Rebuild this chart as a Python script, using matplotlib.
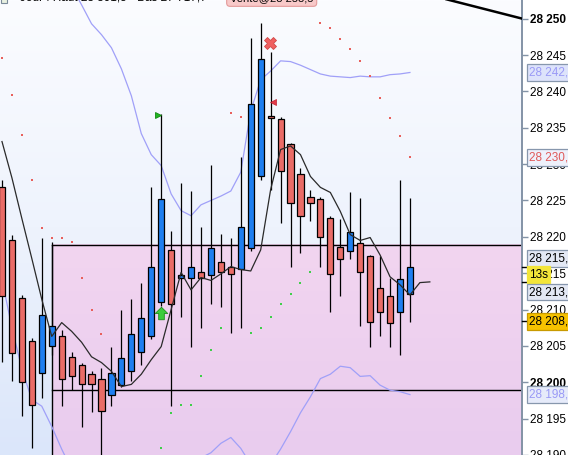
import numpy as np
import matplotlib.pyplot as plt
from matplotlib.patches import Rectangle
from matplotlib.colors import LinearSegmentedColormap

plt.rcParams['font.family'] = ['Liberation Sans', 'DejaVu Sans']

# Bougies : ouverture, haut, bas, clôture
ouv = [28226.8, 28219.5, 28211.6, 28205.7, 28201.3, 28205.0, 28206.4, 28203.5, 28202.3, 28201.1,
       28200.5, 28198.2, 28199.6, 28201.5, 28204.1, 28206.4, 28211.1, 28218.2, 28214.4, 28214.4,
       28215.1, 28214.7, 28216.6, 28215.9, 28215.6, 28218.4, 28228.4, 28236.4, 28236.2, 28232.7,
       28228.7, 28225.5, 28225.2, 28222.6, 28218.6, 28218.0, 28219.2, 28217.3, 28212.9, 28211.8,
       28209.7, 28212.1]
haut = [28227.8, 28220.3, 28212.0, 28206.1, 28219.9, 28219.3, 28207.2, 28204.2, 28202.6, 28201.5,
        28201.9, 28204.9, 28209.9, 28211.4, 28213.7, 28226.9, 28236.9, 28220.8, 28227.4, 28226.3,
        28221.4, 28229.9, 28220.4, 28219.9, 28231.0, 28247.4, 28249.4, 28245.4, 28236.5, 28232.9,
        28229.4, 28226.5, 28225.5, 28222.8, 28222.4, 28226.2, 28225.4, 28217.5, 28217.3, 28214.4,
        28227.8, 28225.4]
bas = [28202.8, 28200.2, 28195.3, 28190.9, 28197.8, 28203.8, 28196.7, 28198.9, 28193.8, 28195.9,
       28189.4, 28196.7, 28199.3, 28200.2, 28202.4, 28205.9, 28210.5, 28196.7, 28209.0, 28204.9,
       28207.4, 28210.8, 28210.4, 28206.8, 28207.4, 28218.0, 28227.8, 28226.5, 28221.9, 28215.9,
       28217.8, 28222.2, 28215.9, 28209.7, 28211.8, 28216.9, 28207.8, 28204.8, 28206.3, 28204.8,
       28203.7, 28208.3]
clot = [28211.9, 28204.0, 28200.0, 28196.8, 28209.2, 28207.7, 28200.5, 28200.9, 28199.7, 28199.8,
        28196.0, 28201.2, 28203.3, 28206.6, 28208.8, 28215.9, 28225.2, 28210.7, 28214.5, 28215.8,
        28214.4, 28218.4, 28215.1, 28214.9, 28221.4, 28238.3, 28244.5, 28236.3, 28229.1, 28224.7,
        28222.8, 28224.7, 28220.0, 28214.9, 28217.0, 28220.7, 28215.2, 28208.3, 28209.7, 28208.1,
        28214.2, 28215.9]

# Moyenne mobile (décalée de 2 barres)
mm = [28233.1, 28228.1, 28222.5, 28217.0, 28211.4, 28206.3, 28208.2, 28207.0, 28205.5, 28203.5,
      28202.7, 28201.5, 28199.4, 28199.7, 28201.1, 28203.1, 28204.9, 28210.0, 28215.1, 28212.7,
      28214.4, 28214.0, 28214.9, 28215.9, 28215.5, 28215.3, 28218.2, 28226.5, 28232.0, 28232.5,
      28231.3, 28228.3, 28226.8, 28226.1, 28223.5, 28220.3, 28219.5, 28219.9, 28217.5, 28214.5,
      28213.4, 28212.0, 28213.7, 28213.8]

# Bandes
bande_haut_debut = 5
bande_haut = [28259.3, 28256.8, 28254.4, 28251.9, 28249.3, 28247.8, 28246.0, 28243.1, 28239.4, 28234.2,
              28231.3, 28229.8, 28225.9, 28223.6, 28222.9, 28224.4, 28225.0, 28225.6, 28226.3, 28228.9,
              28237.3, 28241.6, 28242.8, 28244.2, 28244.1, 28243.6, 28243.0, 28242.4, 28242.1, 28242.0,
              28241.9, 28242.1, 28242.0, 28242.0, 28242.3, 28242.4, 28242.6]
bande_bas_debut = -1
bande_bas = [28219.0, 28214.1, 28207.5, 28201.8, 28197.6, 28196.7, 28193.9, 28190.8, 28188.0, 28186.0,
             28184.6, 28183.9, 28183.9, 28184.6, 28185.3, 28186.6, 28187.3, 28188.0, 28188.0, 28188.0,
             28188.7, 28189.6, 28190.3, 28191.6, 28192.4, 28190.9, 28188.7, 28187.3, 28188.7, 28190.8,
             28193.2, 28195.8, 28198.0, 28200.5, 28201.1, 28202.2, 28202.0, 28200.8, 28200.9, 28199.6,
             28198.9, 28198.7, 28198.3]

# SAR parabolique
sar_rouge_x = [0, 1, 2, 3, 4, 5, 6, 7, 8, 9, 10, 23, 24, 32, 33, 34, 35, 36, 37, 38, 39, 40, 41]
sar_rouge_y = [28244.6, 28239.5, 28234.0, 28227.8, 28221.2, 28219.9, 28219.9, 28219.3, 28214.4, 28210.0,
               28206.6, 28237.0, 28236.5, 28249.4, 28248.7, 28247.2, 28245.8, 28244.2, 28242.1, 28239.1,
               28236.4, 28233.9, 28231.0]
sar_vert_x = [16, 17, 18, 19, 20, 21, 22, 25, 26, 27, 28, 29, 30, 31]
sar_vert_y = [28190.9, 28195.7, 28196.8, 28196.8, 28200.9, 28204.5, 28207.4, 28206.8, 28207.4, 28209.0,
              28210.7, 28212.2, 28213.7, 28215.1]

# Zone et niveaux
zone_debut = 5
zone_haut = 28218.9
ligne_basse = 28198.9
tendance_x = [44.0, 52.3]
tendance_y = [28252.9, 28250.0]

# Étiquettes de l'axe des prix : texte, position, fond, bord, couleur du texte
etiquettes = [
    ("28 242,6", 28242.6, '#dde3fb', '#8797ad', '#9a9af6'),
    ("28 230,9", 28230.9, '#eef1fb', '#8797ad', '#e05a5a'),
    ("28 215,9", 28217.0, '#e3e8f4', '#8797ad', 'black'),
    ("13s", 28214.8, '#f3e53a', '#f3e53a', 'black'),
    ("28 213,8", 28212.4, '#e3e8f4', '#8797ad', 'black'),
    ("28 208,4", 28208.4, '#f6c200', '#c89a00', 'black'),
    ("28 198,3", 28198.3, '#e6ebfa', '#8797ad', '#9a9af6'),
]
reperes = [28215.9, 28213.8, 28208.4]

W, H = 568, 455
fig = plt.figure(figsize=(W / 100, H / 100), dpi=100, facecolor='white')
ax = fig.add_axes([0, 0, 522 / W, 1])

xmin, xmax = -0.2, -0.2 + 522 / 9.95
ymin, ymax = 28189.99, 28252.57

# fond dégradé
grad = np.linspace(0, 1, 256).reshape(-1, 1)
fond = LinearSegmentedColormap.from_list('fond', ['#fbfcff', '#eef3fd', '#dbe6fa'])
ax.imshow(grad, extent=[0, 1, 0, 1], transform=ax.transAxes, cmap=fond,
          aspect='auto', origin='upper', zorder=0)
rose = LinearSegmentedColormap.from_list('rose', ['#f2d5f0', '#e9ccee'])
ax.imshow(grad, extent=[zone_debut, xmax, ymin, zone_haut], cmap=rose,
          aspect='auto', origin='upper', zorder=0.5)
ax.plot([zone_debut, xmax], [zone_haut, zone_haut], color='black', lw=1.0, zorder=1)
ax.plot([zone_debut, zone_debut], [ymin, zone_haut], color='black', lw=1.0, zorder=1)
ax.plot([zone_debut, xmax], [ligne_basse, ligne_basse], color='black', lw=1.0, zorder=1)

# bandes
ax.plot(np.arange(len(bande_haut)) + bande_haut_debut, bande_haut, color='#a0a0f8', lw=0.9, zorder=2)
ax.plot(np.arange(len(bande_bas)) + bande_bas_debut, bande_bas, color='#a0a0f8', lw=0.9, zorder=2)

# bougies
for i in range(len(ouv)):
    o, h, l, c = ouv[i], haut[i], bas[i], clot[i]
    ax.vlines(i, l, h, color='black', lw=0.9, zorder=3)
    couleur = '#1f7ff0' if c > o else '#ea6c67'
    bas_corps = min(o, c)
    hauteur = max(abs(c - o), 0.28)
    ax.add_patch(Rectangle((i - 0.31, bas_corps), 0.62, hauteur, facecolor=couleur,
                           edgecolor='black', lw=0.9, zorder=4))

# moyenne mobile
ax.plot(np.arange(len(mm)), mm, color='#2a2a2a', lw=0.9, zorder=5)

# SAR
ax.plot(sar_rouge_x, sar_rouge_y, 's', color='#e8605c', ms=2.0, mew=0, zorder=5)
ax.plot(sar_vert_x, sar_vert_y, 's', color='#3fcf4a', ms=2.0, mew=0, zorder=5)

# signaux
ax.plot(15.65, 28236.7, '>', color='#22b522', mec='#118811', ms=5, mew=0.6, zorder=6)
fleche = [(0, 1), (-1, 0), (-0.45, 0), (-0.45, -1), (0.45, -1), (0.45, 0), (1, 0), (0, 1)]
ax.plot(16, 28209.5, marker=fleche, color='#3ccc3c', mec='#1d8f1d', ms=9, mew=0.6, zorder=6)
ax.plot(26.9, 28246.7, 'X', color='#f06060', mec='#d04848', ms=9, mew=0.6, zorder=6)
ax.plot(27.25, 28238.5, '<', color='#e23a48', mec='#c02030', ms=5, mew=0.5, zorder=6)

# ligne de tendance
ax.plot(tendance_x, tendance_y, color='black', lw=1.8, zorder=6, solid_capstyle='butt')

ax.set_xlim(xmin, xmax)
ax.set_ylim(ymin, ymax)
ax.set_xticks([])
for cote in ['top', 'left', 'bottom']:
    ax.spines[cote].set_visible(False)
ax.spines['right'].set_color('#8393a6')
ax.spines['right'].set_linewidth(1.4)
ax.yaxis.tick_right()
niveaux = np.arange(28190, 28251, 5)
ax.set_yticks(niveaux)
ax.set_yticklabels([f"{v:,}".replace(",", " ") for v in niveaux])
ax.tick_params(axis='y', direction='out', length=4, width=1, color='#8393a6',
               pad=2, labelsize=8.5, labelcolor='black')
for lab, v in zip(ax.get_yticklabels(), niveaux):
    if v % 50 == 0:
        lab.set_fontweight('bold')

# repères et étiquettes de prix
trans = ax.get_yaxis_transform()
for v in reperes:
    ax.plot([1.0, 1.0 + 5 / 522], [v, v], color='black', lw=1.0, transform=trans,
            clip_on=False, zorder=7)
for texte, v, fc, ec, tc in etiquettes:
    ax.text(1.0 + 7 / 522, v, texte, transform=trans, va='center', ha='left',
            fontsize=8.5, color=tc, clip_on=False, zorder=8,
            bbox=dict(boxstyle='square,pad=0.2', fc=fc, ec=ec, lw=0.9))

# bandeau du haut (coupé)
fig.patches.append(Rectangle((1 / W, 1 - 3 / H), 6 / W, 6 / H, transform=fig.transFigure,
                             facecolor='#e8f0e0', edgecolor='#7a8a9a', lw=0.8))
fig.text(20 / W, 1 + 3 / H, "Jour : Haut 28 301,5 · Bas 27 717,7", fontsize=8.5,
         va='center', ha='left', color='black')
fig.text(230 / W, 1 + 2 / H, "Vente@28 253,5", fontsize=8, va='center', ha='left', color='black',
         bbox=dict(boxstyle='round,pad=0.3', fc='#f8c9c9', ec='#e39a9a', lw=0.8))

fig.savefig('out.png', dpi=100, facecolor=fig.get_facecolor())
